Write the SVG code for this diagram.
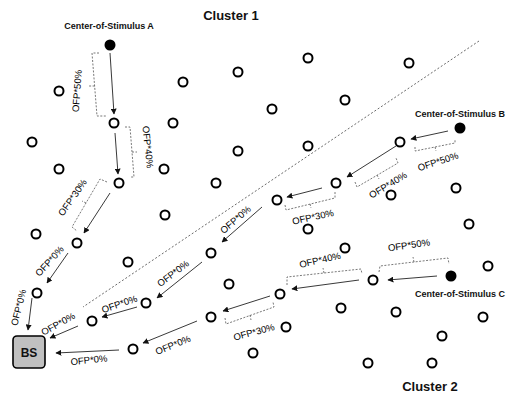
<svg xmlns="http://www.w3.org/2000/svg" width="512" height="394" viewBox="0 0 512 394">
<defs>
<marker id="ah" viewBox="0 0 10 10" refX="9" refY="5" markerWidth="6" markerHeight="6" markerUnits="userSpaceOnUse" orient="auto">
<path d="M0,0 L10,5 L0,10 z" fill="#111"/>
</marker>
</defs>
<style>
.n{fill:#fff;stroke:#000;stroke-width:2}
.s{fill:#000}
.a{stroke:#222;stroke-width:0.9;fill:none;marker-end:url(#ah)}
.b{stroke:#555;stroke-width:0.8;fill:none;stroke-dasharray:2 1.5}
.d{stroke:#444;stroke-width:0.8;fill:none;stroke-dasharray:2 2}
.l{font-family:"Liberation Sans",Arial,sans-serif;font-size:9.5px;fill:#000;text-anchor:middle}
.c{font-family:"Liberation Sans",Arial,sans-serif;font-size:9px;font-weight:bold;fill:#111;text-anchor:middle}
.t{font-family:"Liberation Sans",Arial,sans-serif;font-size:13px;font-weight:bold;fill:#111;text-anchor:middle}
</style>
<rect width="512" height="394" fill="#fff"/>
<text class="t" x="231" y="20">Cluster 1</text>
<text class="t" x="430" y="391">Cluster 2</text>
<path class="d" d="M479,41 L83,307"/>
<g id="nodes">
<circle class="n" cx="59" cy="91" r="4.5"/>
<circle class="n" cx="114" cy="123" r="4.5"/>
<circle class="n" cx="32" cy="142" r="4.5"/>
<circle class="n" cx="59" cy="169" r="4.5"/>
<circle class="n" cx="119" cy="183" r="4.5"/>
<circle class="n" cx="183" cy="82" r="4.5"/>
<circle class="n" cx="238" cy="72" r="4.5"/>
<circle class="n" cx="173" cy="123" r="4.5"/>
<circle class="n" cx="238" cy="151" r="4.5"/>
<circle class="n" cx="164" cy="169" r="4.5"/>
<circle class="n" cx="216" cy="183" r="4.5"/>
<circle class="n" cx="308" cy="58" r="4.5"/>
<circle class="n" cx="409" cy="63" r="4.5"/>
<circle class="n" cx="272" cy="109" r="4.5"/>
<circle class="n" cx="345" cy="100" r="4.5"/>
<circle class="n" cx="308" cy="146" r="4.5"/>
<circle class="n" cx="400" cy="142" r="4.5"/>
<circle class="n" cx="336" cy="183" r="4.5"/>
<circle class="n" cx="456" cy="188" r="4.5"/>
<circle class="n" cx="391" cy="195" r="4.5"/>
<circle class="n" cx="277" cy="200" r="4.5"/>
<circle class="n" cx="36" cy="234" r="4.5"/>
<circle class="n" cx="77" cy="243" r="4.5"/>
<circle class="n" cx="165" cy="215" r="4.5"/>
<circle class="n" cx="128" cy="262" r="4.5"/>
<circle class="n" cx="37" cy="293" r="4.5"/>
<circle class="n" cx="211" cy="253" r="4.5"/>
<circle class="n" cx="229" cy="284" r="4.5"/>
<circle class="n" cx="146" cy="303" r="4.5"/>
<circle class="n" cx="92" cy="321" r="4.5"/>
<circle class="n" cx="211" cy="317" r="4.5"/>
<circle class="n" cx="253" cy="353" r="4.5"/>
<circle class="n" cx="133" cy="349" r="4.5"/>
<circle class="n" cx="469" cy="224" r="4.5"/>
<circle class="n" cx="308" cy="229" r="4.5"/>
<circle class="n" cx="345" cy="248" r="4.5"/>
<circle class="n" cx="488" cy="266" r="4.5"/>
<circle class="n" cx="373" cy="280" r="4.5"/>
<circle class="n" cx="280" cy="294" r="4.5"/>
<circle class="n" cx="341" cy="308" r="4.5"/>
<circle class="n" cx="396" cy="312" r="4.5"/>
<circle class="n" cx="483" cy="317" r="4.5"/>
<circle class="n" cx="286" cy="327" r="4.5"/>
<circle class="n" cx="442" cy="336" r="4.5"/>
<circle class="n" cx="368" cy="363" r="4.5"/>
<circle class="n" cx="432" cy="363" r="4.5"/>
</g>
<g id="stimA">
<circle class="s" cx="110" cy="45" r="5.5"/>
<text class="c" x="109" y="29">Center-of-Stimulus A</text>
</g>
<g id="stimB">
<circle class="s" cx="460" cy="128" r="5.5"/>
<text class="c" x="460" y="117">Center-of-Stimulus B</text>
</g>
<g id="stimC">
<circle class="s" cx="451" cy="276" r="5.5"/>
<text class="c" x="460" y="297">Center-of-Stimulus C</text>
</g>
<g id="BS">
<rect x="13" y="336" width="32" height="32" rx="4" fill="#c0c0c0" stroke="#000" stroke-width="1.6"/>
<text x="29" y="356.5" font-family="'Liberation Sans',Arial,sans-serif" font-size="12" font-weight="bold" text-anchor="middle" fill="#111">BS</text>
</g>
<g id="connectors">
<path class="a" d="M110,53 L114,114"/>
<path class="a" d="M115,133 L118,174"/>
<path class="a" d="M110,193 L84,233"/>
<path class="a" d="M68,253 L47,283"/>
<path class="a" d="M32,298 L28,330"/>
<path class="a" d="M448,131 L411,139"/>
<path class="a" d="M396,146 L347,177"/>
<path class="a" d="M322,188 L287,197"/>
<path class="a" d="M262,207 L222,242"/>
<path class="a" d="M202,262 L157,298"/>
<path class="a" d="M137,307 L102,317"/>
<path class="a" d="M78,326 L50,338"/>
<path class="a" d="M437,276 L388,280"/>
<path class="a" d="M359,280 L292,289"/>
<path class="a" d="M270,296 L223,311"/>
<path class="a" d="M197,321 L143,343"/>
<path class="a" d="M119,350 L56,353"/>
</g>
<g id="brackets">
<path class="b" d="M99,53 L92,53 L97,116 L106,116 M94.6,86 L88,86"/>
<path class="b" d="M125,127 L130,127 L134,177 L130,177 M132,152 L137,152"/>
<path class="b" d="M107,182 L100,179 L72,227 L77,231 M86,203 L82,201"/>
<path class="b" d="M415,147 L415,151 L455,143 L455,139 M435,147 L436,151"/>
<path class="b" d="M355,182 L357,187 L398,163 L396,158 M377,175 L379,179"/>
<path class="b" d="M285,205 L286,210 L335,198 L335,192 M310,204 L311,208"/>
<path class="b" d="M379,272 L380,266 L448,258 L449,264 M414,262 L413,257"/>
<path class="b" d="M287,285 L287,277 L361,269 L362,274 M324,273 L323,268"/>
<path class="b" d="M225,318 L226,324 L274,307 L273,302 M250,315 L251,320"/>
</g>
<g id="labels">
<text class="l" transform="translate(77,91) rotate(-86)" dy="0.35em">OFP*50%</text>
<text class="l" transform="translate(148,147) rotate(84)" dy="0.35em">OFP*40%</text>
<text class="l" transform="translate(72.5,197.5) rotate(-55)" dy="0.35em">OFP*30%</text>
<text class="l" transform="translate(49.5,261) rotate(-48)" dy="0.35em">OFP*0%</text>
<text class="l" transform="translate(18.5,307.5) rotate(-76)" dy="0.35em">OFP*0%</text>
<text class="l" transform="translate(438,161.5) rotate(-18)" dy="0.35em">OFP*50%</text>
<text class="l" transform="translate(388,185) rotate(-31)" dy="0.35em">OFP*40%</text>
<text class="l" transform="translate(313,217) rotate(-12)" dy="0.35em">OFP*30%</text>
<text class="l" transform="translate(235.5,219.5) rotate(-41)" dy="0.35em">OFP*0%</text>
<text class="l" transform="translate(173,273.5) rotate(-37)" dy="0.35em">OFP*0%</text>
<text class="l" transform="translate(119.5,304) rotate(-19)" dy="0.35em">OFP*0%</text>
<text class="l" transform="translate(58,324) rotate(-29)" dy="0.35em">OFP*0%</text>
<text class="l" transform="translate(409,245) rotate(-8)" dy="0.35em">OFP*50%</text>
<text class="l" transform="translate(320,260) rotate(-13)" dy="0.35em">OFP*40%</text>
<text class="l" transform="translate(254,332) rotate(-15)" dy="0.35em">OFP*30%</text>
<text class="l" transform="translate(173,345) rotate(-22)" dy="0.35em">OFP*0%</text>
<text class="l" transform="translate(89,360) rotate(-6)" dy="0.35em">OFP*0%</text>
</g>
</svg>
